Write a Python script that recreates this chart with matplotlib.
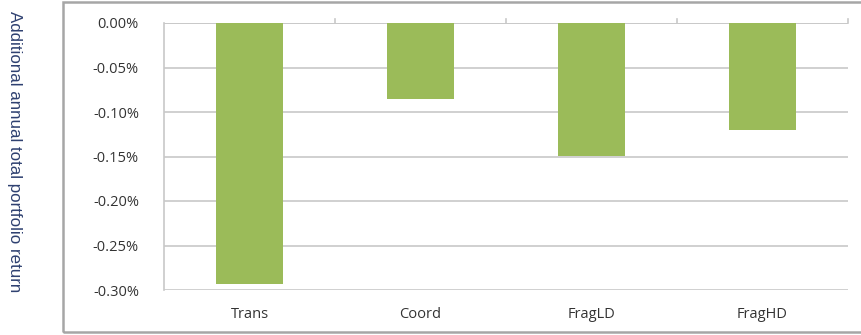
import matplotlib.pyplot as plt
import numpy as np
from matplotlib.patches import Rectangle
from matplotlib.ticker import FuncFormatter, MultipleLocator

# Scenario results (percent of annual total portfolio return)
categories = ['Trans', 'Coord', 'FragLD', 'FragHD']
returns = [-0.293, -0.085, -0.149, -0.120]

bar_color = '#9bbb59'
grid_color = '#c8c8c8'

fig = plt.figure(figsize=(8.62, 3.35), dpi=100)
fig.patch.set_facecolor('white')

# Chart area border
fig.add_artist(Rectangle((63 / 862, 1 - 332 / 335), 1.2, (332 - 2) / 335,
                         transform=fig.transFigure, fill=False,
                         edgecolor='#a6a6a6', linewidth=1.8))

ax = fig.add_axes([164 / 862, 1 - 290 / 335, (848 - 164) / 862, (290 - 23) / 335])

x = np.arange(len(categories))
ax.bar(x, returns, width=0.39, color=bar_color, zorder=3)

ax.set_xlim(-0.5, len(categories) - 0.5)
ax.set_ylim(-0.30, 0.0)
ax.yaxis.set_major_locator(MultipleLocator(0.05))
ax.yaxis.set_major_formatter(FuncFormatter(lambda v, _: f'{v:.2f}%'))
ax.grid(axis='y', color=grid_color, linewidth=1.2, zorder=0)
ax.set_axisbelow(True)

for side in ['top', 'right', 'bottom']:
    ax.spines[side].set_visible(False)
ax.spines['left'].set_color(grid_color)
ax.spines['left'].set_linewidth(1.2)

# horizontal axis sits at zero, labels stay at the bottom
ax.axhline(0, color=grid_color, linewidth=1.2, zorder=2)
for b in np.arange(0.5, len(categories), 1.0):
    ax.plot([b, b], [0, 0.004], color=grid_color, linewidth=1.2,
            clip_on=False, zorder=2)

ax.set_xticks(x)
ax.set_xticklabels(categories)
ax.tick_params(axis='x', length=0, pad=12, labelsize=10.5, colors='#333333')
ax.tick_params(axis='y', length=0, pad=18, labelsize=10.5, colors='#333333')
for lbl in ax.get_xticklabels() + ax.get_yticklabels():
    lbl.set_family('Open Sans')

fig.text(14 / 862, 1 - 152 / 335, 'Additional annual total portfolio return',
         rotation=270, ha='center', va='center', fontsize=12.2,
         color='#2e4070', family='Liberation Sans')

fig.savefig('out.png', dpi=100, facecolor='white')
